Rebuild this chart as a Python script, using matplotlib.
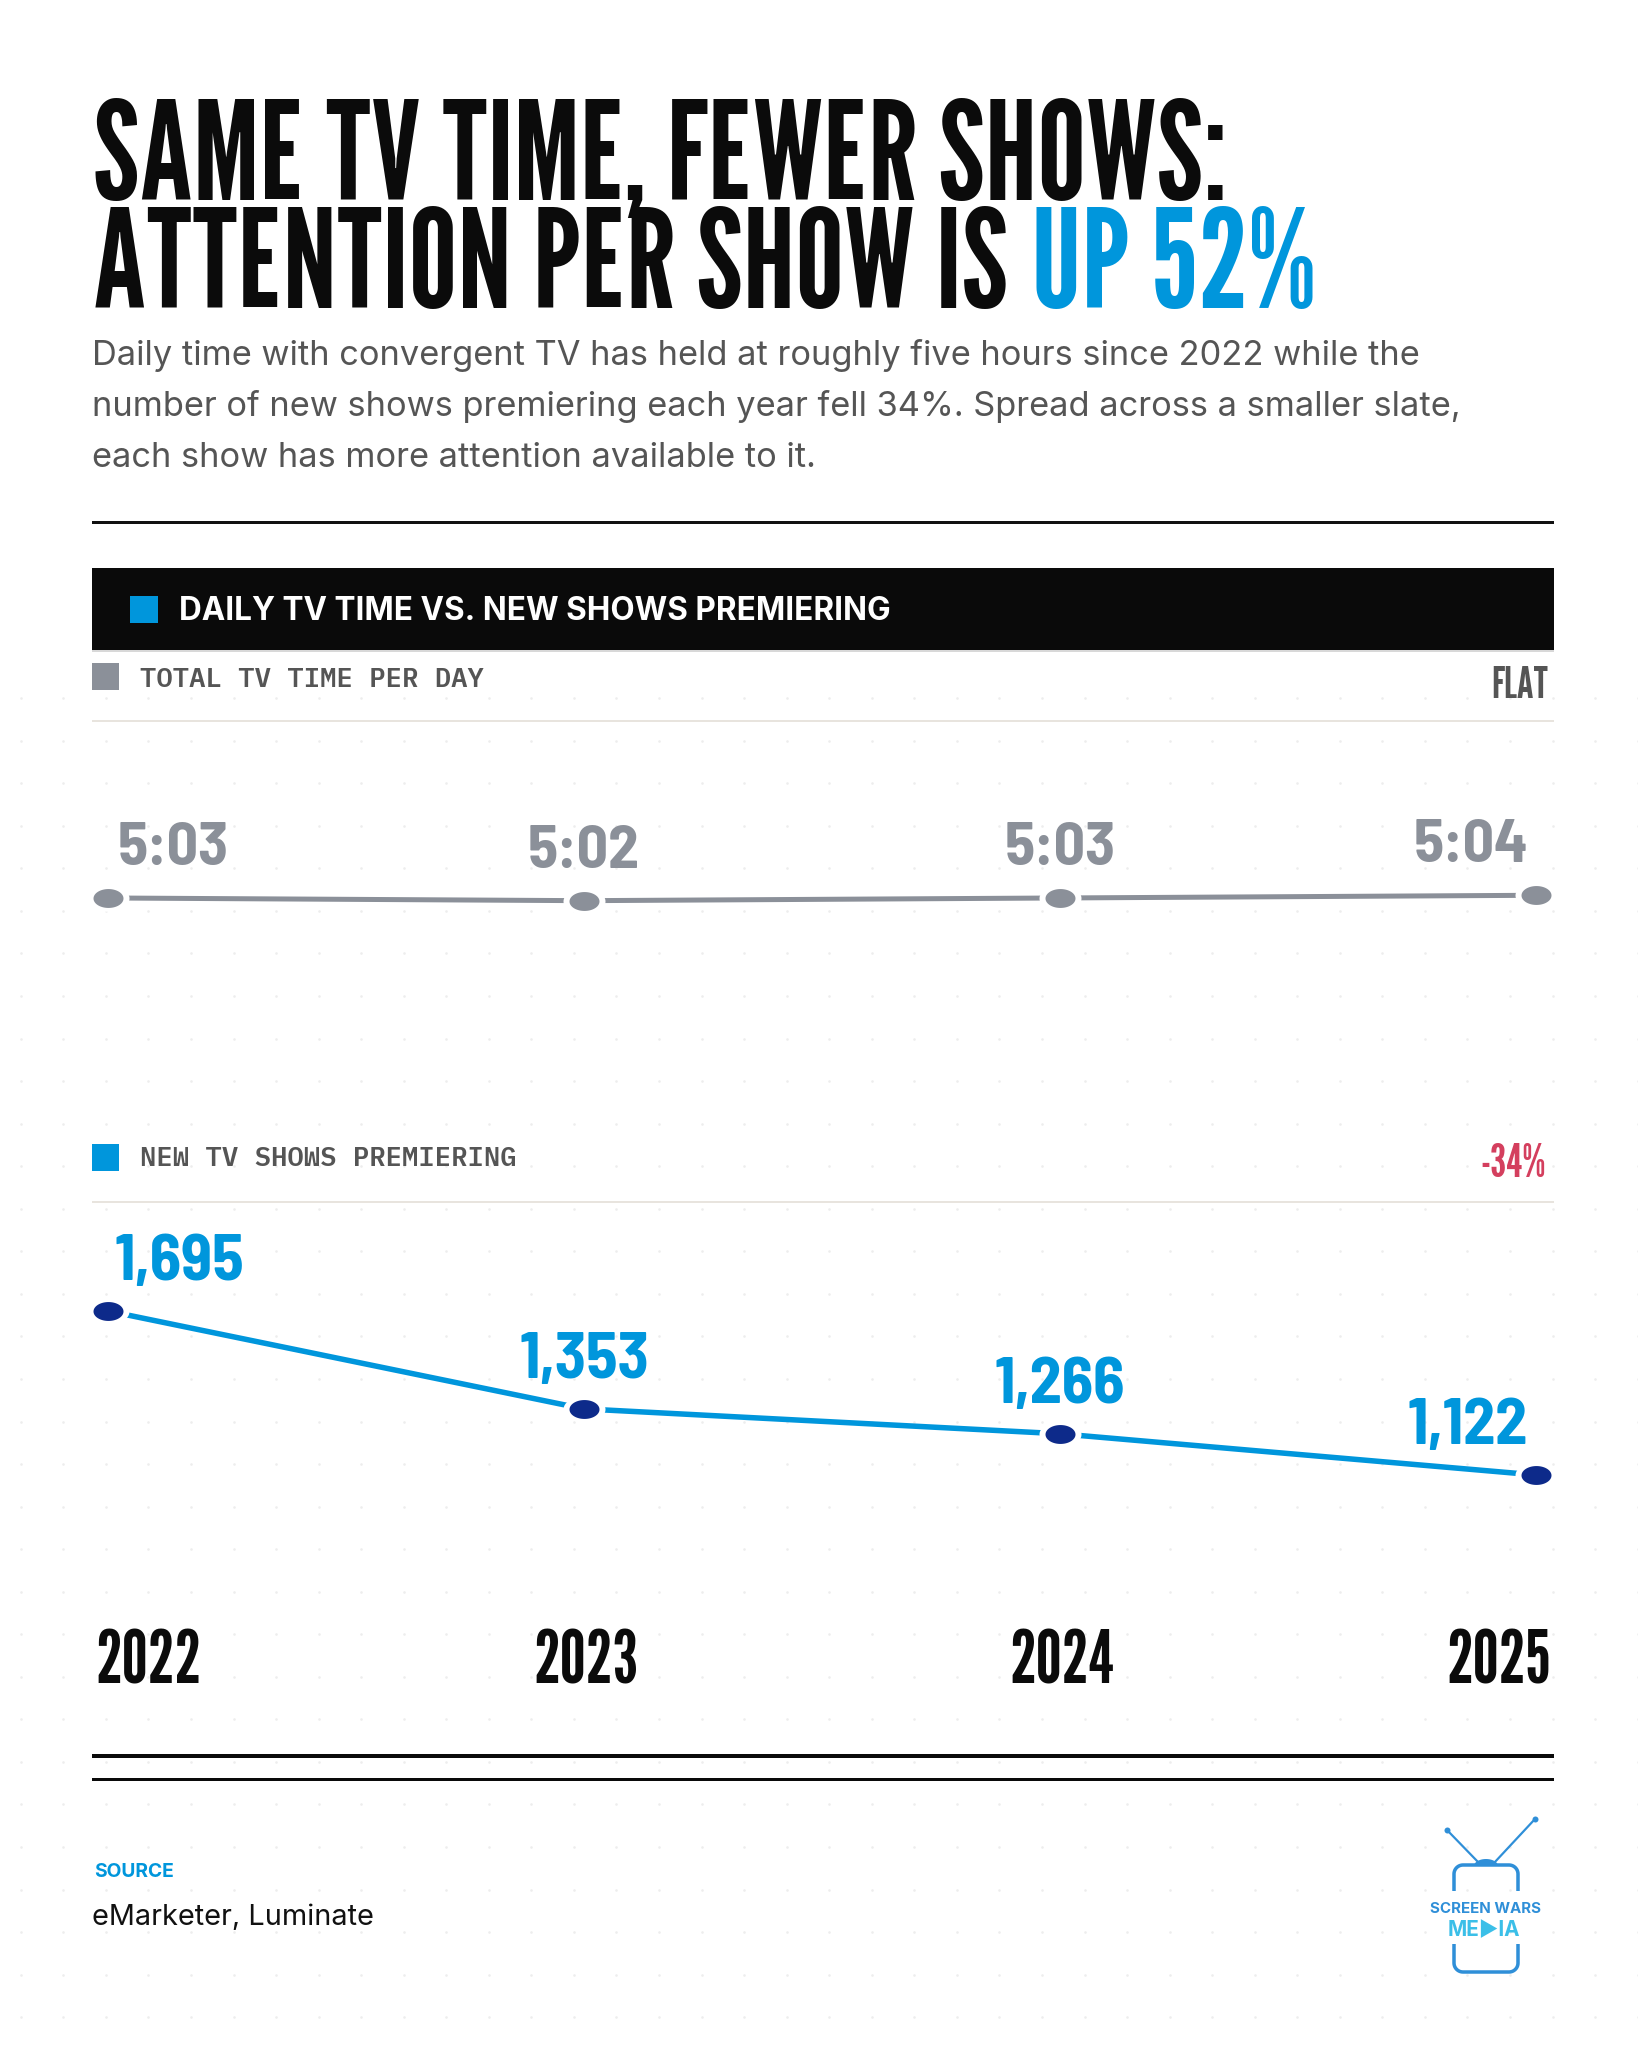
import numpy as np
import matplotlib
matplotlib.use("Agg")
import matplotlib.pyplot as plt
from matplotlib import font_manager as fm
from matplotlib.path import Path
from matplotlib.textpath import TextPath
from matplotlib.patches import Rectangle

# ---------------- data ----------------
years = [2022, 2023, 2024, 2025]
year_labels = ["2022", "2023", "2024", "2025"]
tv_minutes = [303, 302, 303, 304]          # 5:03, 5:02, 5:03, 5:04 (h:mm per day)
new_shows = [1695, 1353, 1266, 1122]       # new TV shows premiering

title_line1 = "SAME TV TIME, FEWER SHOWS:"
title_line2a = "ATTENTION PER SHOW IS"
title_line2b = "UP 52%"
subtitle_lines = [
    "Daily time with convergent TV has held at roughly five hours since 2022 while the",
    "number of new shows premiering each year fell 34%. Spread across a smaller slate,",
    "each show has more attention available to it.",
]
panel_title = "DAILY TV TIME VS. NEW SHOWS PREMIERING"
series1_label = "TOTAL TV TIME PER DAY"
series1_note = "FLAT"
series2_label = "NEW TV SHOWS PREMIERING"
series2_note = "-34%"
source_label = "SOURCE"
source_text = "eMarketer, Luminate"
logo_top = "SCREEN WARS"
logo_bottom = "ME\u25B6IA"

# ---------------- style ----------------
BLUE = "#0096dc"
NAVY = "#0d2a8a"
GRAY = "#8b9099"
RED = "#d43f5e"
DARK = "#0b0b0b"
SUBGRAY = "#555555"
THIN = "#e8e4de"
LOGO_BLUE = "#2f8fd8"
LOGO_CYAN = "#3bbfe8"

names = {f.name for f in fm.fontManager.ttflist}


def pick(*cands):
    for c in cands:
        if c in names:
            return c
    return "DejaVu Sans"


COND = pick("League Gothic", "Bebas Neue", "Oswald", "Antonio", "Anton", "DejaVu Sans")
COND_WEIGHT = "bold" if COND in ("Oswald", "Antonio", "DejaVu Sans") else "normal"
VAL = pick("Barlow Semi Condensed", "Barlow Condensed", "Roboto Condensed", "Oswald", COND)
SANS = pick("Inter", "Roboto", "Open Sans", "DejaVu Sans")
MONO = pick("IBM Plex Mono", "JetBrains Mono", "DejaVu Sans Mono")

W, H = 1638, 2048
fig = plt.figure(figsize=(W / 100, H / 100), dpi=100)
fig.patch.set_facecolor("white")
bg = fig.add_axes([0, 0, 1, 1])
bg.set_xlim(0, W)
bg.set_ylim(H, 0)
bg.axis("off")
r = fig.canvas.get_renderer()

PX = 0.72  # points per pixel at dpi 100


def cap_px(fp, fs):
    tp = TextPath((0, 0), "H", size=100, prop=fp)
    return tp.get_extents().height / 100.0 * fs / PX


def fit(t, w=None, h=None):
    fs = t.get_fontsize()
    sc = []
    if w is not None:
        bb = t.get_window_extent(renderer=r)
        sc.append(w / bb.width)
    if h is not None:
        sc.append(h / cap_px(t.get_fontproperties(), fs))
    t.set_fontsize(fs * min(sc))
    return t


def cond(**kw):
    d = dict(family=COND, fontweight=COND_WEIGHT)
    d.update(kw)
    return d


def val(**kw):
    d = dict(family=VAL, fontweight="bold")
    d.update(kw)
    return d


# ---------------- background dot grid ----------------
gx = np.arange(20.8, W, 42.55)
gy = np.arange(17.4 + 42.55 * 16, H, 42.55)
GX, GY = np.meshgrid(gx, gy)
bg.scatter(GX.ravel(), GY.ravel(), s=3.5, color="#ededed", linewidths=0, zorder=0)

# ---------------- title ----------------
t1 = bg.text(93, 200, title_line1, color=DARK, va="baseline", ha="left",
             fontsize=60, **cond())
fit(t1, w=1152, h=101)
tfs = t1.get_fontsize()
t2 = bg.text(93, 308, title_line2a, color=DARK, va="baseline", ha="left",
             fontsize=tfs, **cond())
bb2 = t2.get_window_extent(renderer=r)
t3 = bg.text(bb2.x1 + 0.17 * tfs / PX, 308, title_line2b, color=BLUE, va="baseline",
             ha="left", fontsize=tfs, **cond())

# subtitle
s0 = bg.text(92, 365, subtitle_lines[0], color=SUBGRAY, va="baseline", ha="left",
             fontsize=23, family=SANS)
fit(s0, w=1326)
sfs = s0.get_fontsize()
for i, line in enumerate(subtitle_lines[1:], start=1):
    bg.text(92, 365 + 51 * i, line, color=SUBGRAY, va="baseline", ha="left",
            fontsize=sfs, family=SANS)

# top rule
bg.add_patch(Rectangle((92, 520.5), 1462, 3, color="#111111", lw=0, zorder=2))

# ---------------- panel header band ----------------
bg.add_patch(Rectangle((92, 568), 1462, 82, color="#0a0a0a", lw=0, zorder=2))
bg.add_patch(Rectangle((92, 650), 1462, 1.5, color="#d8d8d8", lw=0, zorder=2))
bg.add_patch(Rectangle((130, 596), 28, 27, color=BLUE, lw=0, zorder=3))
pt = bg.text(179, 620, panel_title, color="white", va="baseline", ha="left",
             fontsize=18, family=SANS, fontweight="bold", zorder=4)
fit(pt, w=709, h=23)

# series 1 header
bg.add_patch(Rectangle((92, 663), 27, 27, color=GRAY, lw=0, zorder=3))
l1 = bg.text(140, 687, series1_label, color=SUBGRAY, va="baseline", ha="left",
             fontsize=18, family=MONO, fontweight="semibold")
fit(l1, w=344, h=19)
n1 = bg.text(1548, 698, series1_note, color=SUBGRAY, va="baseline", ha="right",
             fontsize=30, **cond())
fit(n1, w=57, h=35)
bg.add_patch(Rectangle((92, 720), 1462, 2, color=THIN, lw=0, zorder=2))

# series 2 header
bg.add_patch(Rectangle((92, 1144), 27, 27, color=BLUE, lw=0, zorder=3))
l2 = bg.text(140, 1166, series2_label, color=SUBGRAY, va="baseline", ha="left",
             fontsize=l1.get_fontsize(), family=MONO, fontweight="semibold")
n2 = bg.text(1546, 1177, series2_note, color=RED, va="baseline", ha="right",
             fontsize=30, **cond())
fit(n2, w=87, h=34)
bg.add_patch(Rectangle((92, 1201), 1462, 2, color=THIN, lw=0, zorder=2))

# ---------------- line charts ----------------
X0_PX, X1_PX = 92, 1554
XLIM = (2021.9664, 2025.0378)

theta = np.linspace(0, 2 * np.pi, 73)
ELL = Path(np.column_stack([np.cos(theta), 0.63 * np.sin(theta)]))


def make_ax(ytop_px, ybot_px, ylim):
    ax = fig.add_axes([X0_PX / W, 1 - ybot_px / H, (X1_PX - X0_PX) / W,
                       (ybot_px - ytop_px) / H])
    ax.set_xlim(*XLIM)
    ax.set_ylim(*ylim)
    ax.axis("off")
    ax.patch.set_alpha(0)
    return ax


def draw_series(ax, vals, lcolor, dcolor, lw):
    ax.plot(years, vals, color=lcolor, lw=lw, solid_capstyle="butt", zorder=2)
    ax.plot(years, vals, ls="none", marker=ELL, ms=42 * PX, mfc="white",
            mec="none", zorder=3)
    ax.plot(years, vals, ls="none", marker=ELL, ms=30 * PX, mfc=dcolor,
            mec="none", zorder=4)


# gray: total TV time
ax1 = make_ax(780, 1020, (257.8, 346.7))
draw_series(ax1, tv_minutes, GRAY, GRAY, 5 * PX)
g_texts = []
for i, (yr, v) in enumerate(zip(years, tv_minutes)):
    s = f"{v // 60}:{v % 60:02d}"
    if i == 0:
        ha, dx = "left", 10
    elif i == len(years) - 1:
        ha, dx = "right", -8
    else:
        ha, dx = "center", 0
    t = ax1.annotate(s, (yr, v), xytext=(dx * PX, 33 * PX), textcoords="offset points",
                     ha=ha, va="baseline", color=GRAY, fontsize=30, **val())
    g_texts.append(t)
fit(g_texts[0], w=120, h=43)
for t in g_texts[1:]:
    t.set_fontsize(g_texts[0].get_fontsize())

# blue: new shows
ax2 = make_ax(1230, 1560, (825, 1978))
draw_series(ax2, new_shows, BLUE, NAVY, 5.5 * PX)
b_texts = []
for i, (yr, v) in enumerate(zip(years, new_shows)):
    s = f"{v:,}"
    if i == 0:
        ha, dx = "left", 7
    elif i == len(years) - 1:
        ha, dx = "right", -8
    else:
        ha, dx = "center", 0
    t = ax2.annotate(s, (yr, v), xytext=(dx * PX, 31 * PX), textcoords="offset points",
                     ha=ha, va="baseline", color=BLUE, fontsize=30, **val())
    b_texts.append(t)
fit(b_texts[0], w=140, h=45)
for t in b_texts[1:]:
    t.set_fontsize(b_texts[0].get_fontsize())

# year labels
y_texts = []
for i, (yr, lab) in enumerate(zip(years, year_labels)):
    if i == 0:
        ha, dx = "left", -13
    elif i == len(years) - 1:
        ha, dx = "right", 15
    else:
        ha, dx = "center", 2
    t = ax2.annotate(lab, (yr, H - 1683), xycoords=("data", "figure pixels"),
                     xytext=(dx * PX, 0), textcoords="offset points",
                     ha=ha, va="baseline", color=DARK, fontsize=40, **cond())
    y_texts.append(t)
fit(y_texts[0], w=108, h=54)
for t in y_texts[1:]:
    t.set_fontsize(y_texts[0].get_fontsize())

# bottom double rule
bg.add_patch(Rectangle((92, 1754), 1462, 4, color="#0a0a0a", lw=0, zorder=2))
bg.add_patch(Rectangle((92, 1777.5), 1462, 3, color="#0a0a0a", lw=0, zorder=2))

# source
sl = bg.text(94, 1877, source_label, color=BLUE, va="baseline", ha="left",
             fontsize=12, family=SANS, fontweight="bold")
fit(sl, w=80, h=15)
st = bg.text(92, 1925, source_text, color="#111111", va="baseline", ha="left",
             fontsize=20, family=SANS)
fit(st, w=282)

# ---------------- logo ----------------
lw_logo = 3.5 * PX
bg.plot([1447, 1479], [1830, 1863], color=LOGO_BLUE, lw=2.2 * PX, zorder=5)
bg.plot([1535, 1494], [1819, 1863], color=LOGO_BLUE, lw=2.2 * PX, zorder=5)
bg.scatter([1447, 1535], [1830, 1819], s=(6 * PX) ** 2, color=LOGO_BLUE, lw=0, zorder=5)
a = np.linspace(0, np.pi, 30)
bg.fill(1486 + 12 * np.cos(a), 1866 - 7 * np.sin(a), color=LOGO_BLUE, lw=0, zorder=5)

x0, x1, y0, y1, rr = 1454, 1518, 1865, 1972, 9
gt, gb = 1891, 1944
q = np.linspace(0, np.pi / 2, 12)
top_x = np.concatenate([[x0], x0 + rr - rr * np.cos(q), x1 - rr + rr * np.sin(q), [x1]])
top_y = np.concatenate([[gt], y0 + rr - rr * np.sin(q), y0 + rr - rr * np.cos(q), [gt]])
bot_x = np.concatenate([[x0], x0 + rr - rr * np.cos(q), x1 - rr + rr * np.sin(q), [x1]])
bot_y = np.concatenate([[gb], y1 - rr + rr * np.sin(q), y1 - rr + rr * np.cos(q), [gb]])
bg.plot(top_x, top_y, color=LOGO_BLUE, lw=lw_logo, zorder=5, solid_capstyle="butt")
bg.plot(bot_x, bot_y, color=LOGO_BLUE, lw=lw_logo, zorder=5, solid_capstyle="butt")
lt = bg.text(1486, 1913, logo_top, color=LOGO_BLUE, va="baseline", ha="center",
             fontsize=10, family=SANS, fontweight="bold", zorder=6)
fit(lt, w=120, h=11)
lb = bg.text(1484, 1936, logo_bottom, color=LOGO_CYAN, va="baseline", ha="center",
             fontsize=14, family=[SANS, "DejaVu Sans"], fontweight="bold", zorder=6)
fit(lb, w=96, h=15)

fig.savefig("out.png", dpi=100, facecolor="white")
